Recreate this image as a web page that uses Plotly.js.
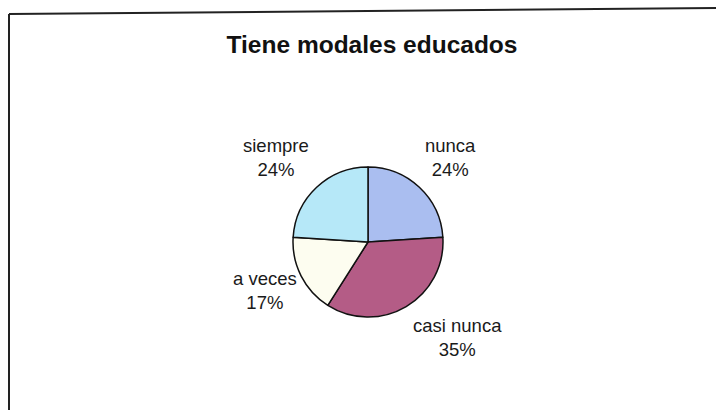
<!DOCTYPE html>
<html>
<head>
<meta charset="utf-8">
<script src="https://cdn.plot.ly/plotly-3.0.1.min.js"></script>
<style>
  html, body { margin: 0; padding: 0; background: #ffffff; }
  #chart { width: 716px; height: 410px; }
</style>
</head>
<body>
<div id="chart"></div>
<script>
// Data
const categories = ["nunca", "casi nunca", "a veces", "siempre"];
const values = [24, 35, 17, 24];
const sliceColors = ["#aabef0", "#b45c86", "#fdfdf0", "#b6e8f8"];
const chartTitle = "Tiene modales educados";

const W = 716, H = 410;
const px = x => x / W;
const py = y => 1 - y / H;

// Pie geometry (pixels)
const cx = 368, cy = 242, r = 75;

// label positions (pixels) for each category, layout only
const labelPos = {
  "nunca": [450, 157],
  "casi nunca": [457, 337],
  "a veces": [265, 290],
  "siempre": [276, 157]
};

const total = values.reduce((a, b) => a + b, 0);

const annotations = categories.map((c, i) => ({
  x: px(labelPos[c][0]), y: py(labelPos[c][1]),
  xref: "paper", yref: "paper",
  xanchor: "center", yanchor: "middle",
  showarrow: false,
  align: "center",
  text: c + "<br>" + Math.round(values[i] / total * 100) + "%",
  font: { family: "Liberation Sans, Arial, sans-serif", size: 18.5, color: "#1a1a1a" }
}));

const trace = {
  type: "pie",
  labels: categories,
  values: values,
  sort: false,
  direction: "clockwise",
  rotation: 0,
  textinfo: "none",
  marker: { colors: sliceColors, line: { color: "#111111", width: 1.5 } },
  domain: { x: [px(cx - r), px(cx + r)], y: [py(cy + r), py(cy - r)] },
  showlegend: false
};

const layout = {
  width: W, height: H,
  margin: { l: 0, r: 0, t: 0, b: 0 },
  paper_bgcolor: "#ffffff",
  plot_bgcolor: "#ffffff",
  showlegend: false,
  title: {
    text: "<b>" + chartTitle + "</b>",
    x: px(372), xanchor: "center",
    y: py(44), yanchor: "middle",
    font: { family: "Liberation Sans, Arial, sans-serif", size: 24.5, color: "#111111" }
  },
  annotations: annotations,
  shapes: [
    { type: "line", xref: "paper", yref: "paper", x0: px(9), y0: py(14), x1: px(716), y1: py(8),
      line: { color: "#222222", width: 2 } },
    { type: "line", xref: "paper", yref: "paper", x0: px(9), y0: py(14), x1: px(9), y1: py(410),
      line: { color: "#222222", width: 2 } }
  ]
};

Plotly.newPlot("chart", [trace], layout, { displayModeBar: false, staticPlot: true });
</script>
</body>
</html>
